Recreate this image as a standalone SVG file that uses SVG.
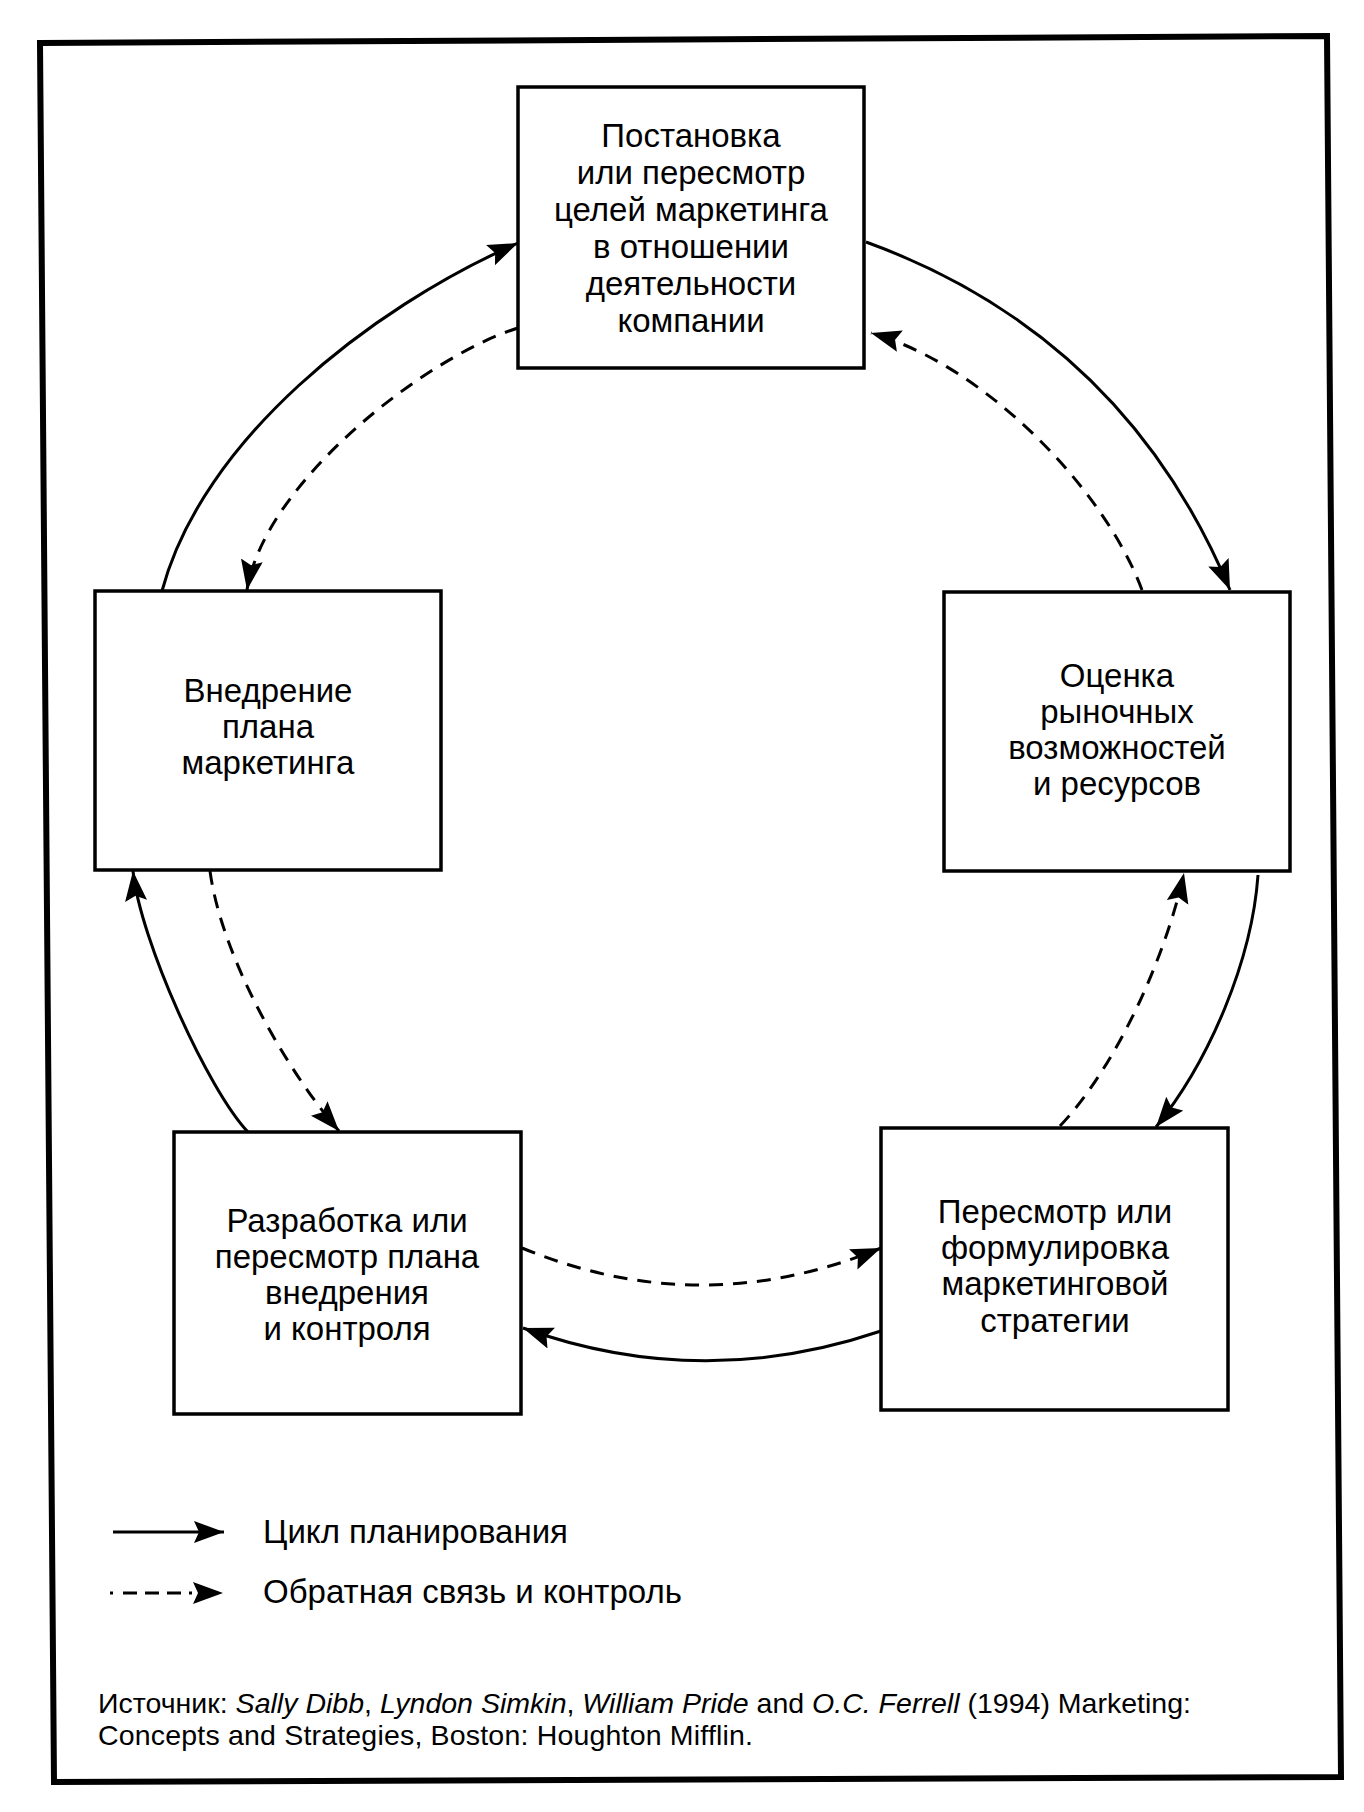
<svg xmlns="http://www.w3.org/2000/svg" width="1364" height="1812" viewBox="0 0 1364 1812">
  <style>
    .box { fill: #fff; stroke: #000; stroke-width: 3.5; }
    .lbl { font-family: "Liberation Sans", Arial, sans-serif; font-size: 33px; fill: #000; text-anchor: middle; }
    .leg { font-family: "Liberation Sans", Arial, sans-serif; font-size: 33px; fill: #000; }
    .src { font-family: "Liberation Sans", Arial, sans-serif; font-size: 28.5px; fill: #000; }
    .it { font-style: italic; }
    .solid { fill: none; stroke: #000; stroke-width: 3; }
    .dash { fill: none; stroke: #000; stroke-width: 3; stroke-dasharray: 14 10; }
  </style>
  <defs>
    <marker id="arr" markerUnits="userSpaceOnUse" markerWidth="32" markerHeight="24" refX="30" refY="11" orient="auto">
      <path d="M0,0 L30,11 L0,22 L5,11 z" fill="#000" stroke="none"/>
    </marker>
  </defs>
  <rect width="1364" height="1812" fill="#fff"/>

  <!-- outer frame -->
  <polygon id="frame" points="40,43 1327,36 1341,1777 54,1782" fill="none" stroke="#000" stroke-width="6"/>

  <!-- connectors -->
  <g id="connectors">
    <!-- planning cycle (solid) -->
    <path class="solid" marker-end="url(#arr)" d="M866,242 Q1124,336 1230,590"/>
    <path class="solid" marker-end="url(#arr)" d="M1258,875 C1252,960 1210,1060 1156,1127"/>
    <path class="solid" marker-end="url(#arr)" d="M881,1331 Q701,1392 523,1328"/>
    <path class="solid" marker-end="url(#arr)" d="M248,1132 C208,1090 140,940 133,871"/>
    <path class="solid" marker-end="url(#arr)" d="M162,591 C202,441 368,309 518,243"/>
    <!-- feedback and control (dashed) -->
    <path class="dash" marker-end="url(#arr)" d="M518,328 C430,355 265,480 247,590"/>
    <path class="dash" marker-end="url(#arr)" d="M210,871 C222,960 290,1075 339,1131"/>
    <path class="dash" marker-end="url(#arr)" d="M522,1248 Q701,1322 881,1248"/>
    <path class="dash" marker-end="url(#arr)" d="M1060,1126 C1115,1068 1165,960 1184,873"/>
    <path class="dash" marker-end="url(#arr)" d="M1142,590 C1105,490 985,365 871,333"/>
  </g>

  <!-- nodes -->
  <g id="node-goals">
    <rect class="box" x="518" y="87" width="346" height="281"/>
    <text class="lbl" x="691" y="147">Постановка</text>
    <text class="lbl" x="691" y="184">или пересмотр</text>
    <text class="lbl" x="691" y="221">целей маркетинга</text>
    <text class="lbl" x="691" y="258">в отношении</text>
    <text class="lbl" x="691" y="295">деятельности</text>
    <text class="lbl" x="691" y="332">компании</text>
  </g>
  <g id="node-assess">
    <rect class="box" x="944" y="592" width="346" height="279"/>
    <text class="lbl" x="1117" y="687">Оценка</text>
    <text class="lbl" x="1117" y="723">рыночных</text>
    <text class="lbl" x="1117" y="759">возможностей</text>
    <text class="lbl" x="1117" y="795">и ресурсов</text>
  </g>
  <g id="node-strategy">
    <rect class="box" x="881" y="1128" width="347" height="282"/>
    <text class="lbl" x="1055" y="1223">Пересмотр или</text>
    <text class="lbl" x="1055" y="1259">формулировка</text>
    <text class="lbl" x="1055" y="1295">маркетинговой</text>
    <text class="lbl" x="1055" y="1332">стратегии</text>
  </g>
  <g id="node-plan">
    <rect class="box" x="174" y="1132" width="347" height="282"/>
    <text class="lbl" x="347" y="1232">Разработка или</text>
    <text class="lbl" x="347" y="1268">пересмотр плана</text>
    <text class="lbl" x="347" y="1304">внедрения</text>
    <text class="lbl" x="347" y="1340">и контроля</text>
  </g>
  <g id="node-implement">
    <rect class="box" x="95" y="591" width="346" height="279"/>
    <text class="lbl" x="268" y="702">Внедрение</text>
    <text class="lbl" x="268" y="738">плана</text>
    <text class="lbl" x="268" y="774">маркетинга</text>
  </g>

  <!-- legend -->
  <g id="legend">
    <path class="solid" marker-end="url(#arr)" d="M113,1532 L224,1532"/>
    <text class="leg" x="263" y="1543">Цикл планирования</text>
    <path class="dash" style="stroke-dasharray: 3 10 14 8 14 8 14 8" marker-end="url(#arr)" d="M110,1593 L223,1593"/>
    <text class="leg" x="263" y="1603">Обратная связь и контроль</text>
  </g>

  <!-- source -->
  <g id="source">
    <text class="src" x="98" y="1713" textLength="1093" lengthAdjust="spacing">Источник: <tspan class="it">Sally Dibb</tspan>, <tspan class="it">Lyndon Simkin</tspan>, <tspan class="it">William Pride</tspan> and <tspan class="it">O.C. Ferrell</tspan> (1994) Marketing:</text>
    <text class="src" x="98" y="1745" textLength="655" lengthAdjust="spacing">Concepts and Strategies, Boston: Houghton Mifflin.</text>
  </g>
</svg>
